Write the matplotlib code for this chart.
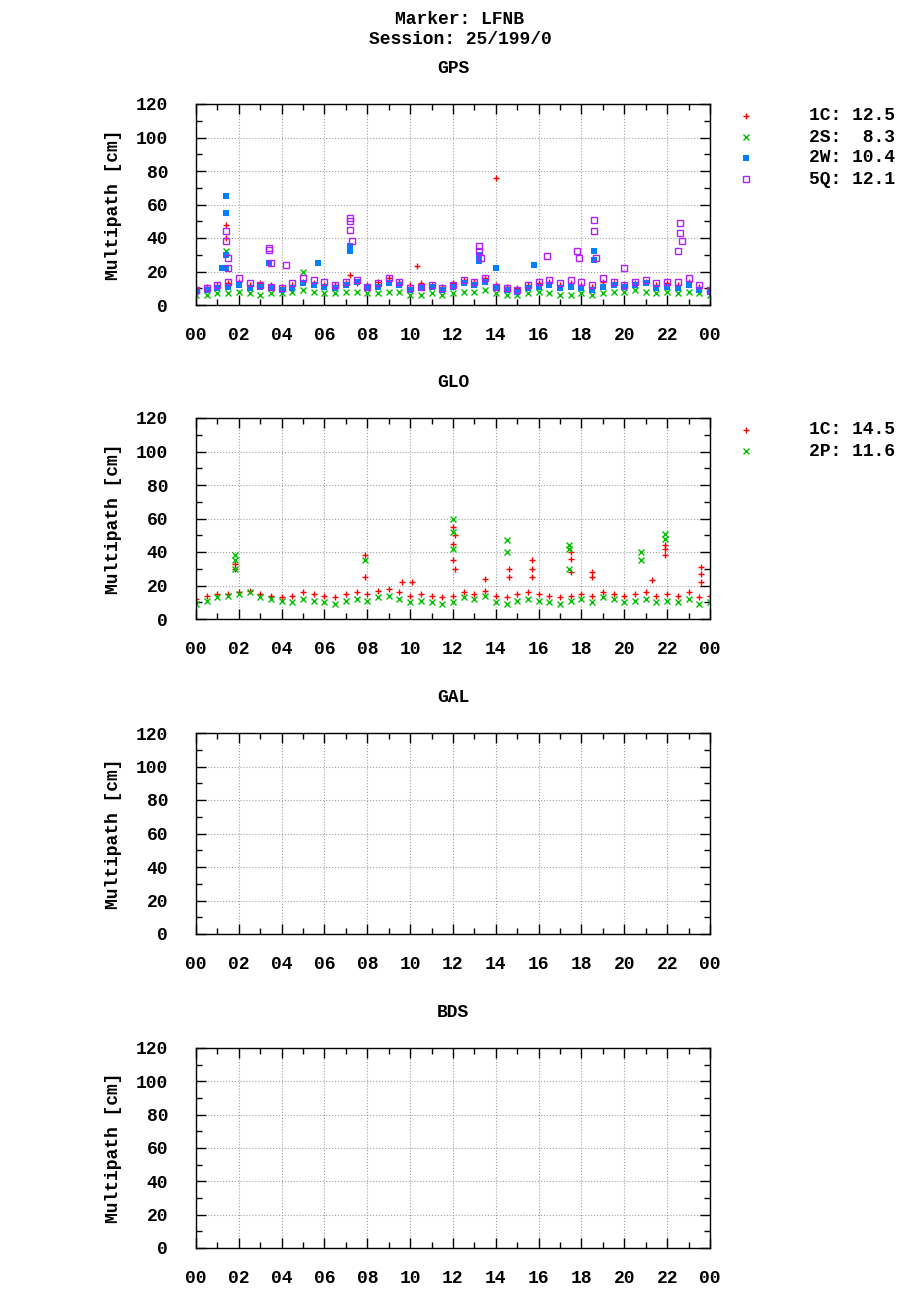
import matplotlib
matplotlib.use("Agg")
import matplotlib.pyplot as plt
from matplotlib.ticker import MultipleLocator
import numpy as np

FONT = "Liberation Mono"
plt.rcParams["font.family"] = FONT
plt.rcParams["font.weight"] = "bold"

hours = [i * 0.5 for i in range(49)]
xtick_labels = ["00", "02", "04", "06", "08", "10", "12", "14", "16", "18", "20", "22", "00"]

gps_1c = [10,11,12,13,14,12,13,12,11,12,14,13,12,12,13,13,12,14,16,14,12,13,12,11,13,15,14,16,12,11,10,12,13,14,12,13,12,11,14,13,12,13,14,12,13,12,14,11,10]
gps_2s = [6,6,7,7,8,7,6,7,7,8,9,8,7,7,8,8,7,7,8,8,6,6,7,6,7,8,8,9,7,6,6,7,8,7,6,6,7,6,7,8,8,9,8,7,8,7,8,7,6]
gps_2w = [8,9,10,11,12,10,11,10,9,10,13,12,11,10,12,14,10,11,13,12,9,10,11,9,11,13,12,14,10,9,8,10,11,12,10,11,10,9,11,12,11,12,13,10,11,10,12,9,8]
gps_5q = [9,10,12,14,16,13,12,11,10,13,16,15,14,12,14,15,11,13,16,14,10,11,12,10,12,15,14,16,11,10,9,12,14,15,13,15,14,12,16,14,12,14,15,13,14,14,16,12,9]

gps_1c_spk_t = [1.4, 1.4, 14.0, 10.3, 7.2]
gps_1c_spk_v = [48, 40, 76, 23, 18]
gps_2s_spk_t = [5.0, 1.4]
gps_2s_spk_v = [20, 32]
gps_2w_spk_t = [1.4, 1.4, 1.4, 1.4, 1.2, 3.4, 5.7, 7.2, 7.2, 13.2, 13.2, 14.0, 15.8, 18.6, 18.6]
gps_2w_spk_v = [65, 55, 30, 22, 22, 25, 25, 35, 32, 30, 26, 22, 24, 32, 27]
gps_5q_spk_t = [1.4, 1.4, 1.5, 1.5, 3.4, 3.4, 3.5, 4.2, 7.2, 7.2, 7.2, 7.3, 13.2, 13.2, 13.3, 16.4, 17.8, 17.9, 18.6, 18.6, 18.7, 20.0, 22.6, 22.6, 22.7, 22.5]
gps_5q_spk_v = [44, 38, 28, 22, 34, 33, 25, 24, 52, 50, 45, 38, 35, 32, 28, 29, 32, 28, 51, 44, 28, 22, 49, 43, 38, 32]

glo_1c = [12,14,15,15,16,17,15,14,13,14,16,15,14,13,15,16,15,17,18,16,14,15,14,13,14,16,15,17,14,13,15,16,15,14,13,14,15,14,16,15,14,15,16,14,15,14,16,13,14]
glo_2p = [9,11,13,14,15,16,13,12,11,10,12,11,10,9,11,12,11,13,14,12,10,11,10,9,10,13,12,14,10,9,11,12,11,10,9,11,12,10,13,12,10,11,12,10,11,10,12,9,10]

glo_1c_spk_t = [1.8, 1.8, 7.9, 7.9, 9.6, 10.1, 12.0, 12.0, 12.0, 12.1, 12.1, 13.5, 14.6, 14.6, 15.7, 15.7, 15.7, 17.5, 17.5, 17.5, 18.5, 18.5, 21.3, 21.9, 21.9, 21.9, 23.6, 23.6, 23.6]
glo_1c_spk_v = [33, 30, 38, 25, 22, 22, 55, 45, 35, 50, 30, 24, 30, 25, 35, 30, 25, 40, 36, 28, 28, 25, 23, 44, 42, 38, 31, 27, 22]
glo_2p_spk_t = [1.8, 1.8, 1.8, 7.9, 12.0, 12.0, 12.0, 14.5, 14.5, 17.4, 17.4, 17.4, 20.8, 20.8, 21.9, 21.9]
glo_2p_spk_v = [38, 35, 30, 35, 60, 52, 42, 47, 40, 44, 42, 30, 40, 35, 51, 48]

RED = "#ff0000"; GRN = "#00c000"; BLU = "#0080ff"; PUR = "#b020ff"

W, H = 920, 1300
FS = 13
fig = plt.figure(figsize=(9.2, 13.0), dpi=100)
fig.text(460/W, 1-20/H, "Marker: LFNB", ha="center", va="center", fontsize=FS, fontweight="bold")
fig.text(460/W, 1-40/H, "Session: 25/199/0", ha="center", va="center", fontsize=FS, fontweight="bold")

panels = [("GPS", 104, 305), ("GLO", 418, 619), ("GAL", 733, 934), ("BDS", 1048, 1248)]
axes = []
for name, top, bot in panels:
    ax = fig.add_axes([196/W, 1-bot/H, (710-196)/W, (bot-top)/H])
    ax.set_xlim(0, 24); ax.set_ylim(0, 120)
    ax.xaxis.set_major_locator(MultipleLocator(2)); ax.xaxis.set_minor_locator(MultipleLocator(1))
    ax.yaxis.set_major_locator(MultipleLocator(20)); ax.yaxis.set_minor_locator(MultipleLocator(10))
    ax.set_xticks(np.arange(0, 25, 2)); ax.set_xticklabels(xtick_labels)
    ax.tick_params(which="both", direction="in", top=True, right=True, labelsize=FS, width=1)
    ax.tick_params(which="major", length=7)
    ax.tick_params(axis="y", which="major", pad=20)
    ax.tick_params(axis="x", which="major", pad=16)
    ax.tick_params(which="minor", length=4)
    ax.grid(True, which="major", color="#a0a0a0", linestyle=":", linewidth=0.8)
    for s in ax.spines.values(): s.set_linewidth(1)
    ax.set_ylabel("Multipath [cm]", fontsize=FS, fontweight="bold", labelpad=10)
    ax.set_title(name, fontsize=FS, fontweight="bold", pad=22)
    for lb in ax.get_xticklabels() + ax.get_yticklabels(): lb.set_fontweight("bold")
    axes.append(ax)

ms = 4
a = axes[0]
a.plot(hours, gps_2s, "x", color=GRN, ms=ms, mew=1)
a.plot(gps_2s_spk_t, gps_2s_spk_v, "x", color=GRN, ms=ms, mew=1)
a.plot(hours, gps_1c, "+", color=RED, ms=ms, mew=1)
a.plot(gps_1c_spk_t, gps_1c_spk_v, "+", color=RED, ms=ms, mew=1)
a.plot(hours, gps_2w, "s", color=BLU, ms=ms, mew=0)
a.plot(gps_2w_spk_t, gps_2w_spk_v, "s", color=BLU, ms=ms, mew=0)
a.plot(hours, gps_5q, "s", mfc="none", mec=PUR, ms=ms, mew=1)
a.plot(gps_5q_spk_t, gps_5q_spk_v, "s", mfc="none", mec=PUR, ms=ms, mew=1)

a = axes[1]
a.plot(hours, glo_1c, "+", color=RED, ms=ms, mew=1)
a.plot(glo_1c_spk_t, glo_1c_spk_v, "+", color=RED, ms=ms, mew=1)
a.plot(hours, glo_2p, "x", color=GRN, ms=ms, mew=1)
a.plot(glo_2p_spk_t, glo_2p_spk_v, "x", color=GRN, ms=ms, mew=1)

def legend(ytop, entries):
    for i, (lbl, c, m, filled) in enumerate(entries):
        y = 1-(ytop + i*21)/H
        fig.lines.append(plt.Line2D([746/W], [y], marker=m, color=c, mfc=c if filled else "none",
                                    mec=c, ms=ms, mew=1 if m != "s" or not filled else 0,
                                    linestyle="none", transform=fig.transFigure))
        fig.text(895/W, y, lbl, ha="right", va="center", fontsize=FS, fontweight="bold")

legend(116, [("1C: 12.5", RED, "+", True), ("2S:  8.3", GRN, "x", True),
             ("2W: 10.4", BLU, "s", True), ("5Q: 12.1", PUR, "s", False)])
legend(430, [("1C: 14.5", RED, "+", True), ("2P: 11.6", GRN, "x", True)])

fig.savefig("out.png", dpi=100)
